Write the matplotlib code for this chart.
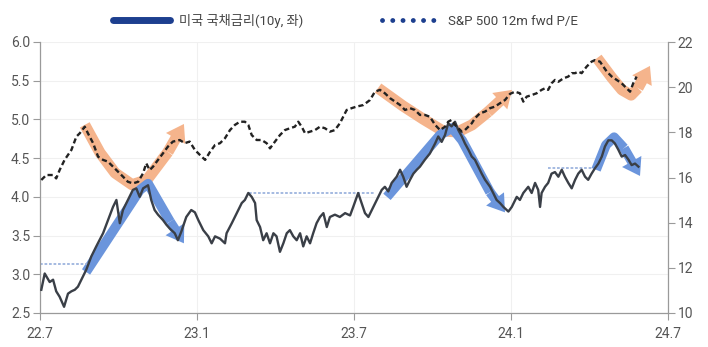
import numpy as np
import matplotlib
matplotlib.use("Agg")
import matplotlib.pyplot as plt
from matplotlib.lines import Line2D
from matplotlib.patches import FancyArrowPatch, ArrowStyle

plt.rcParams['font.family'] = ['Roboto', 'Noto Sans CJK KR', 'DejaVu Sans']

# time axis: months counted from 2022-07
yld_t = [0.05, 0.18, 0.37, 0.50, 0.62, 0.75, 0.92, 1.07, 1.20, 1.33,
         1.45, 1.58, 1.77, 1.96, 2.15, 2.41, 2.60, 2.79, 2.92, 3.05,
         3.17, 3.36, 3.55, 3.68, 3.81, 3.94, 4.13, 4.25, 4.38, 4.51,
         4.70, 4.83, 4.96, 5.15, 5.27, 5.40, 5.59, 5.78, 5.92, 6.05,
         6.24, 6.43, 6.56, 6.69, 6.88, 7.07, 7.13, 7.33, 7.52, 7.71,
         7.83, 7.96, 8.09, 8.22, 8.28, 8.41, 8.53, 8.66, 8.79, 8.92,
         9.04, 9.17, 9.30, 9.43, 9.55, 9.68, 9.81, 9.94, 10.06, 10.19,
         10.32, 10.44, 10.57, 10.70, 10.83, 10.96, 11.08, 11.27, 11.46, 11.66,
         11.85, 11.97, 12.16, 12.29, 12.42, 12.55, 12.68, 12.87, 13.06, 13.18,
         13.31, 13.44, 13.63, 13.76, 13.88, 14.01, 14.14, 14.27, 14.40, 14.52,
         14.71, 14.90, 15.10, 15.22, 15.35, 15.48, 15.60, 15.73, 15.86, 15.99,
         16.12, 16.24, 16.37, 16.50, 16.62, 16.75, 16.88, 17.01, 17.20, 17.32,
         17.45, 17.58, 17.71, 17.90, 18.03, 18.22, 18.34, 18.47, 18.66, 18.79,
         18.92, 19.04, 19.11, 19.17, 19.30, 19.42, 19.55, 19.68, 19.81, 19.94,
         20.06, 20.19, 20.32, 20.45, 20.57, 20.70, 20.83, 20.95, 21.08, 21.21,
         21.34, 21.47, 21.59, 21.72, 21.85, 21.97, 22.10, 22.23, 22.36, 22.49,
         22.61, 22.74, 22.87]
yld = [2.80, 3.01, 2.90, 2.93, 2.78, 2.71, 2.58, 2.75, 2.78, 2.80,
       2.84, 2.93, 3.06, 3.23, 3.36, 3.53, 3.70, 3.87, 3.96, 3.66,
       3.83, 3.96, 4.09, 4.11, 4.00, 4.11, 4.15, 3.96, 3.83, 3.77,
       3.70, 3.64, 3.59, 3.53, 3.44, 3.55, 3.74, 3.83, 3.80, 3.70,
       3.57, 3.49, 3.40, 3.49, 3.46, 3.40, 3.53, 3.66, 3.79, 3.92,
       3.96, 4.05, 4.00, 3.92, 3.70, 3.61, 3.44, 3.53, 3.40, 3.53,
       3.49, 3.29, 3.40, 3.53, 3.57, 3.49, 3.44, 3.53, 3.36, 3.49,
       3.40, 3.53, 3.66, 3.74, 3.79, 3.61, 3.74, 3.77, 3.74, 3.79,
       3.76, 3.87, 4.05, 3.92, 3.79, 3.74, 3.83, 3.96, 4.09, 4.13,
       4.07, 4.18, 4.26, 4.35, 4.26, 4.13, 4.22, 4.30, 4.35, 4.39,
       4.48, 4.56, 4.69, 4.78, 4.71, 4.80, 4.95, 4.91, 4.97, 4.86,
       4.78, 4.69, 4.61, 4.52, 4.48, 4.39, 4.30, 4.22, 4.13, 4.05,
       3.96, 3.92, 3.87, 3.81, 3.87, 4.00, 3.96, 4.05, 4.13, 4.05,
       4.18, 4.09, 3.87, 4.05, 4.13, 4.18, 4.30, 4.32, 4.26, 4.35,
       4.26, 4.18, 4.11, 4.22, 4.30, 4.35, 4.26, 4.22, 4.30, 4.37,
       4.43, 4.52, 4.65, 4.73, 4.73, 4.69, 4.61, 4.52, 4.54, 4.48,
       4.41, 4.43, 4.39]

pe_t = [0.05, 0.24, 0.50, 0.62, 0.75, 0.94, 1.07, 1.20, 1.39, 1.52,
        1.71, 1.83, 2.03, 2.22, 2.41, 2.60, 2.79, 2.98, 3.17, 3.36,
        3.55, 3.75, 3.94, 4.06, 4.19, 4.32, 4.51, 4.70, 4.89, 5.08,
        5.34, 5.53, 5.72, 5.92, 6.11, 6.31, 6.50, 6.69, 6.88, 7.07,
        7.26, 7.45, 7.64, 7.83, 7.96, 8.09, 8.28, 8.47, 8.66, 8.79,
        8.98, 9.17, 9.36, 9.55, 9.74, 9.87, 10.00, 10.13, 10.32, 10.51,
        10.70, 10.89, 11.08, 11.27, 11.46, 11.59, 11.72, 11.91, 12.10, 12.36,
        12.61, 12.80, 12.99, 13.18, 13.38, 13.57, 13.76, 13.95, 14.14, 14.33,
        14.52, 14.71, 14.90, 15.10, 15.29, 15.48, 15.60, 15.73, 15.86, 15.99,
        16.12, 16.24, 16.37, 16.50, 16.62, 16.81, 17.01, 17.20, 17.39, 17.58,
        17.77, 17.96, 18.15, 18.34, 18.47, 18.60, 18.79, 18.98, 19.17, 19.30,
        19.42, 19.55, 19.68, 19.81, 20.00, 20.19, 20.32, 20.45, 20.57, 20.70,
        20.89, 21.08, 21.21, 21.40, 21.53, 21.66, 21.85, 22.04, 22.23, 22.42,
        22.55, 22.67, 22.74, 22.80]
pe = [15.89, 16.11, 16.11, 15.96, 16.33, 16.78, 17.00, 17.22, 17.81, 17.96,
      18.25, 17.96, 17.52, 16.92, 16.78, 16.70, 16.48, 16.26, 16.04, 15.81,
      15.74, 15.81, 16.19, 16.63, 16.33, 16.48, 16.78, 17.07, 17.37, 17.59,
      17.66, 17.52, 17.59, 17.22, 17.00, 16.78, 17.14, 17.44, 17.52, 17.74,
      18.10, 18.33, 18.47, 18.47, 18.33, 17.88, 17.66, 17.66, 17.52, 17.29,
      17.59, 17.88, 18.10, 18.18, 18.25, 18.47, 18.25, 17.96, 18.03, 18.10,
      18.25, 18.18, 18.03, 18.10, 18.40, 18.69, 18.99, 19.07, 19.14, 19.21,
      19.43, 19.80, 19.88, 19.73, 19.51, 19.36, 19.21, 18.99, 19.07, 18.99,
      18.77, 18.77, 18.69, 18.33, 18.10, 18.25, 18.47, 18.55, 18.33, 18.18,
      18.03, 18.10, 18.25, 18.40, 18.62, 18.84, 18.92, 19.07, 19.14, 19.29,
      19.43, 19.70, 19.80, 19.73, 19.36, 19.58, 19.65, 19.73, 19.88, 19.95,
      19.88, 20.17, 20.32, 20.24, 20.39, 20.47, 20.62, 20.62, 20.69, 20.62,
      20.91, 21.13, 21.20, 21.13, 20.91, 20.69, 20.47, 20.32, 20.17, 19.95,
      19.80, 20.17, 20.32, 20.47]

xtick_pos = [0, 6, 12, 18, 24]
xtick_labels = ['22.7', '23.1', '23.7', '24.1', '24.7']

# flat yield levels: (level, start month, end month)
yld_levels = [(3.13, 0.0, 1.85), (4.05, 8.0, 12.8), (4.37, 19.4, 21.1)]

# trend arrows as waypoints (month, value); the last point is the tip
yld_arrows = [
    [(1.76, 3.03), (3.82, 4.09), (4.13, 4.17), (4.97, 3.68), (5.50, 3.40)],
    [(13.26, 4.00), (15.29, 4.80), (15.75, 4.89), (16.13, 4.73), (17.20, 4.06), (17.77, 3.80)],
    [(21.25, 4.35), (21.63, 4.67), (21.94, 4.77), (22.32, 4.63), (22.93, 4.27)],
]
pe_arrows = [
    [(1.71, 18.33), (2.29, 17.10), (2.87, 16.20), (3.52, 15.68), (4.09, 15.90), (4.89, 17.13), (5.50, 18.37)],
    [(12.92, 19.96), (13.87, 19.17), (14.64, 18.59), (15.40, 18.06), (15.97, 18.02), (16.51, 18.33), (17.12, 18.90), (18.04, 19.88)],
    [(21.29, 21.29), (21.86, 20.41), (22.24, 19.88), (22.59, 19.65), (22.85, 19.96), (23.31, 20.94)],
]

fig = plt.figure(figsize=(7.08, 3.47), dpi=100)
ax1 = fig.add_axes([40 / 708, 34 / 347, 628 / 708, 271 / 347])
ax2 = ax1.twinx()

ax1.set_xlim(0, 24)
ax1.set_ylim(2.5, 6.0)
ax2.set_ylim(10, 22)


def draw_arrow(ax, pts, color, lw, trans):
    xs = [p[0] for p in pts[:-1]]
    ys = [p[1] for p in pts[:-1]]
    ax.plot(xs, ys, color=color, lw=lw, solid_capstyle='butt',
            solid_joinstyle='round', transform=trans, zorder=2)
    style = ArrowStyle.Simple(head_length=1.2, head_width=1.6, tail_width=lw / 10)
    head = FancyArrowPatch(pts[-2], pts[-1], arrowstyle=style, mutation_scale=10,
                           color=color, lw=0, shrinkA=0, shrinkB=0,
                           transform=trans, zorder=2)
    ax.add_patch(head)


for pts in pe_arrows:
    draw_arrow(ax1, pts, '#f5b48c', 8, ax2.transData)
for pts in yld_arrows:
    draw_arrow(ax1, pts, '#6b95dc', 7, ax1.transData)

for lvl, t0, t1 in yld_levels:
    ax1.plot([t0, t1], [lvl, lvl], color='#9db4de', lw=1.3, ls=(0, (1.5, 1)), zorder=2.5)

ax1.plot(yld_t, yld, color='#3a3f47', lw=1.7, zorder=3)
ax2.plot(pe_t, pe, color='#222222', lw=1.7, ls=(0, (2.2, 1.3)), zorder=3)

# axes styling
ax1.set_xticks(xtick_pos)
ax1.set_xticklabels(xtick_labels)
ax1.set_yticks(np.arange(2.5, 6.01, 0.5))
ax1.set_yticklabels(['%.1f' % v for v in np.arange(2.5, 6.01, 0.5)])
ax2.set_yticks(range(10, 23, 2))

ax1.grid(True, color='#f0f0f0', lw=0.8)
ax1.set_axisbelow(True)

for ax in (ax1, ax2):
    ax.tick_params(direction='out', length=5, width=0.8, color='#9a9a9a',
                   labelcolor='#555555', labelsize=10, pad=2)
    for s in ax.spines.values():
        s.set_color('#9a9a9a')
        s.set_linewidth(0.9)
ax1.spines['top'].set_visible(False)
ax1.spines['right'].set_visible(False)
ax2.spines['top'].set_visible(False)
ax2.spines['left'].set_visible(False)
ax2.spines['bottom'].set_visible(False)
ax1.tick_params(axis='x', pad=5)

handles = [
    Line2D([], [], color='#1d3f8f', lw=5, solid_capstyle='round'),
    Line2D([], [], color='#1d3f8f', lw=3.5, ls=(0, (0.01, 2.1)), dash_capstyle='round'),
]
labels = ['미국 국채금리(10y, 좌)', 'S&P 500 12m fwd P/E']
fig.legend(handles, labels, loc='center', bbox_to_anchor=(0.488, 0.94), ncol=2,
           frameon=False, fontsize=9.5, handlelength=4.3, handletextpad=0.7,
           columnspacing=6.0, labelcolor='#444444')

fig.savefig('out.png', dpi=100)
